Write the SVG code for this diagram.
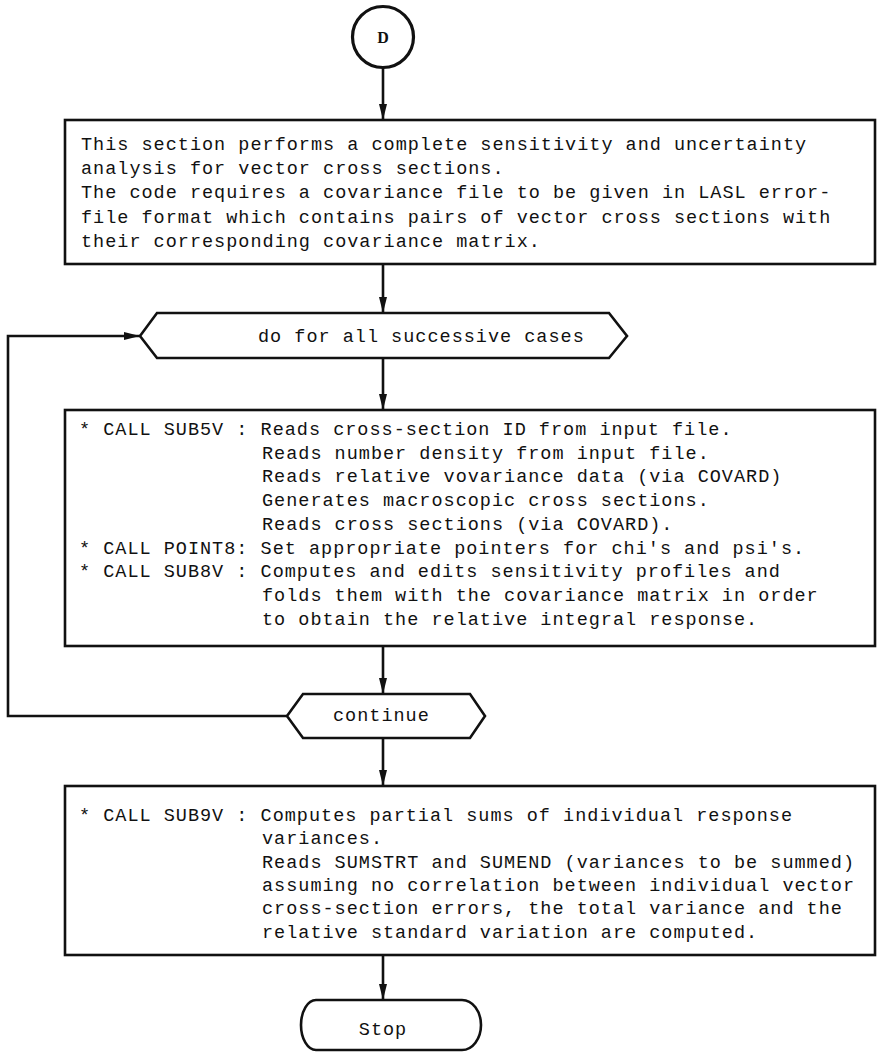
<svg xmlns="http://www.w3.org/2000/svg" width="877" height="1052" viewBox="0 0 877 1052">
<defs>
<style>
.t{font-family:"Liberation Mono","DejaVu Sans Mono",monospace;font-size:18.5px;letter-spacing:1px;fill:#111}
.box{fill:#fff;stroke:#111;stroke-width:2.6}
.ln{fill:none;stroke:#111;stroke-width:2.6}
</style>
<marker id="ah" viewBox="0 0 16 8" refX="16" refY="4" markerWidth="16" markerHeight="8" markerUnits="userSpaceOnUse" orient="auto">
<path d="M0,0 L16,4 L0,8 Z" fill="#111"/>
</marker>
</defs>
<rect width="877" height="1052" fill="#fff"/>
<g id="connectors">
<line class="ln" x1="383" y1="68" x2="383" y2="120" marker-end="url(#ah)"/>
<line class="ln" x1="383" y1="264" x2="383" y2="313" marker-end="url(#ah)"/>
<line class="ln" x1="383" y1="358" x2="383" y2="410" marker-end="url(#ah)"/>
<line class="ln" x1="383" y1="646" x2="383" y2="694" marker-end="url(#ah)"/>
<line class="ln" x1="383" y1="738" x2="383" y2="786" marker-end="url(#ah)"/>
<line class="ln" x1="383" y1="955" x2="383" y2="1000" marker-end="url(#ah)"/>
<polyline class="ln" points="287,716 8,716 8,336 140,336" marker-end="url(#ah)"/>
</g>
<g id="start">
<circle cx="383" cy="37" r="30.5" fill="#fff" stroke="#111" stroke-width="3.2"/>
<text x="383" y="43" style="font-family:'Liberation Serif',serif;font-size:16px;font-weight:bold;fill:#111" text-anchor="middle">D</text>
</g>
<g id="intro">
<rect class="box" x="65" y="120" width="810" height="144"/>
<text class="t" x="81" y="150">This section performs a complete sensitivity and uncertainty</text>
<text class="t" x="81" y="174">analysis for vector cross sections.</text>
<text class="t" x="81" y="198">The code requires a covariance file to be given in LASL error-</text>
<text class="t" x="81" y="223">file format which contains pairs of vector cross sections with</text>
<text class="t" x="81" y="247">their corresponding covariance matrix.</text>
</g>
<g id="loop">
<polygon class="box" points="140,336 157,313 609,313 627,336 609,358 157,358"/>
<text class="t" x="258" y="342">do for all successive cases</text>
</g>
<g id="calls">
<rect class="box" x="65" y="410" width="810" height="236"/>
<text class="t" x="79" y="435">* CALL SUB5V : Reads cross-section ID from input file.</text>
<text class="t" x="262" y="459">Reads number density from input file.</text>
<text class="t" x="262" y="482">Reads relative vovariance data (via COVARD)</text>
<text class="t" x="262" y="506">Generates macroscopic cross sections.</text>
<text class="t" x="262" y="530">Reads cross sections (via COVARD).</text>
<text class="t" x="79" y="554">* CALL POINT8: Set appropriate pointers for chi's and psi's.</text>
<text class="t" x="79" y="577">* CALL SUB8V : Computes and edits sensitivity profiles and</text>
<text class="t" x="262" y="601">folds them with the covariance matrix in order</text>
<text class="t" x="262" y="625">to obtain the relative integral response.</text>
</g>
<g id="continue">
<polygon class="box" points="287,716 303,694 470,694 485,716 470,738 303,738"/>
<text class="t" x="333" y="721">continue</text>
</g>
<g id="sums">
<rect class="box" x="65" y="786" width="810" height="169"/>
<text class="t" x="79" y="821">* CALL SUB9V : Computes partial sums of individual response</text>
<text class="t" x="262" y="844">variances.</text>
<text class="t" x="262" y="868">Reads SUMSTRT and SUMEND (variances to be summed)</text>
<text class="t" x="262" y="891">assuming no correlation between individual vector</text>
<text class="t" x="262" y="914">cross-section errors, the total variance and the</text>
<text class="t" x="262" y="938">relative standard variation are computed.</text>
</g>
<g id="stop">
<path class="box" d="M316,1000 H462 A19,25 0 0 1 462,1050 H316 A15,25 0 0 1 316,1000 Z"/>
<text class="t" x="383" y="1035" text-anchor="middle">Stop</text>
</g>
</svg>
